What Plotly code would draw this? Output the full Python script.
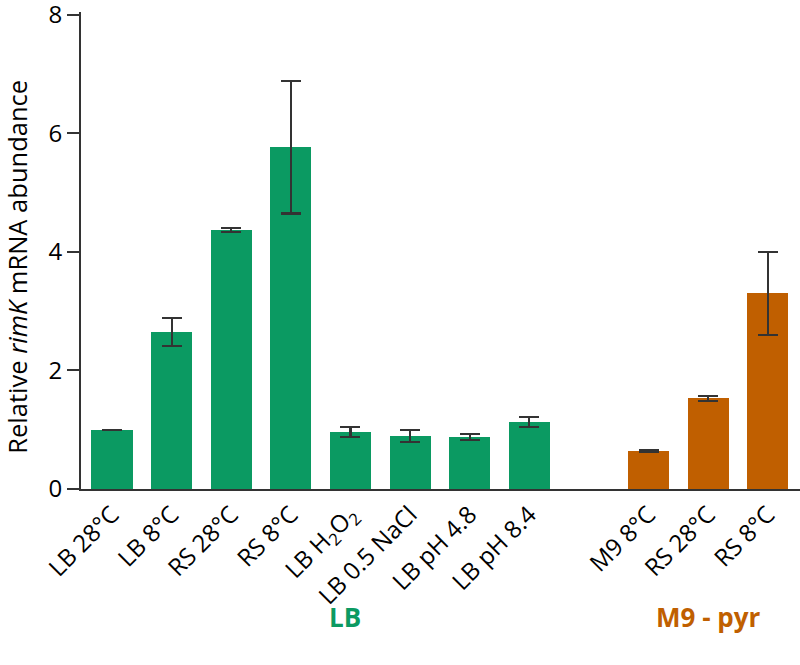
import plotly.graph_objects as go

lb_labels = ["LB 28°C", "LB 8°C", "RS 28°C", "RS 8°C", "LB H<sub>2</sub>O<sub>2</sub>",
             "LB 0.5 NaCl", "LB pH 4.8", "LB pH 8.4"]
lb_values = [1.0, 2.65, 4.37, 5.77, 0.96, 0.90, 0.88, 1.13]
lb_errors = [0.0, 0.24, 0.03, 1.12, 0.08, 0.10, 0.05, 0.09]
lb_pos = [0, 1, 2, 3, 4, 5, 6, 7]

m9_labels = ["M9 8°C", "RS 28°C", "RS 8°C"]
m9_values = [0.64, 1.53, 3.30]
m9_errors = [0.01, 0.04, 0.70]
m9_pos = [9, 10, 11]

y_ticks = [0, 2, 4, 6, 8]

GREEN = "#0b9a62"
ORANGE = "#c05f00"
INK = "#333333"
FONT = "Open Sans"

fig = go.Figure()
for pos, vals, errs, color in [(lb_pos, lb_values, lb_errors, GREEN),
                               (m9_pos, m9_values, m9_errors, ORANGE)]:
    fig.add_trace(go.Bar(
        x=pos, y=vals, width=0.69, marker_color=color, marker_line_width=0,
        error_y=dict(type="data", array=errs, color=INK, thickness=2.2, width=10,
                     visible=True),
        showlegend=False,
    ))

fig.update_layout(
    width=800, height=665,
    margin=dict(l=81, r=0, t=12, b=176, autoexpand=False),
    plot_bgcolor="white", paper_bgcolor="white",
    font=dict(family=FONT, size=22, color="black"),
    bargap=0,
    xaxis=dict(
        range=[-0.52, 11.54],
        tickvals=lb_pos + m9_pos,
        ticktext=lb_labels + m9_labels,
        tickangle=-45,
        ticks="",
        automargin=False,
        showline=True, linecolor=INK, linewidth=2,
        showgrid=False, zeroline=False,
        tickfont=dict(size=24),
    ),
    yaxis=dict(
        range=[0, 8.05],
        tickvals=y_ticks,
        ticks="outside", ticklen=12, tickwidth=2, tickcolor=INK,
        ticklabeloverflow="allow",
        automargin=False,
        showline=True, linecolor=INK, linewidth=2,
        showgrid=False, zeroline=False,
        tickfont=dict(size=24),
    ),
)

# y title as an annotation so it can sit slightly below the plot's middle, as in the source
fig.add_annotation(text="Relative <i>rimK</i> mRNA abundance", textangle=-90,
                   x=0, y=0.466, xref="paper", yref="paper", xshift=-64,
                   xanchor="center", yanchor="middle", showarrow=False,
                   font=dict(size=25.5, family=FONT, color="black"))

fig.add_annotation(text="<b>LB</b>", x=3.9, y=0, xref="x", yref="paper",
                   yanchor="middle", yshift=-128, showarrow=False,
                   font=dict(size=26, color=GREEN, family=FONT))
fig.add_annotation(text="<b>M9 - pyr</b>", x=10, y=0, xref="x", yref="paper",
                   yanchor="middle", yshift=-128, showarrow=False,
                   font=dict(size=26, color=ORANGE, family=FONT))

# the page body has a default 8px margin; drop it so the figure sits at the corner
fig.write_html("out.html", config={"displayModeBar": False},
               post_script="document.body.style.margin='0';")
